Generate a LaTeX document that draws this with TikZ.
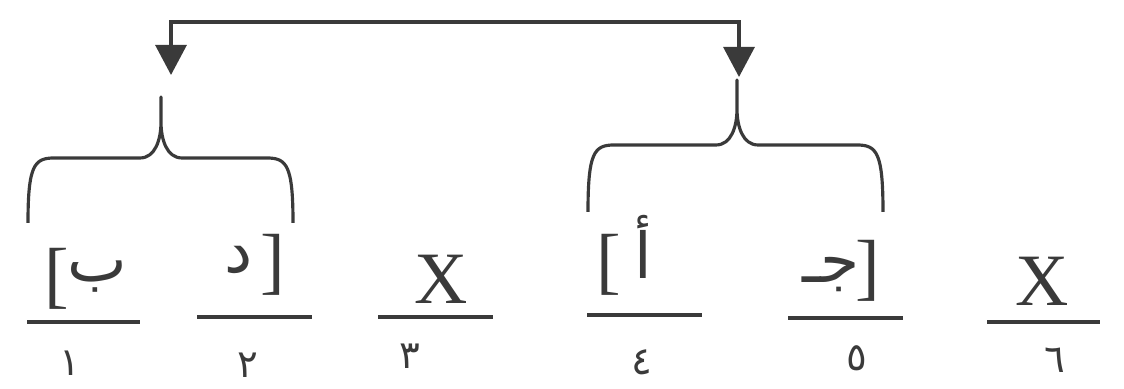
\documentclass[tikz,border=0pt]{standalone}
\usepackage{fontspec}
\setmainfont{Liberation Serif}
\newfontfamily\arabicfont[Script=Arabic]{DejaVu Sans}
\TeXXeTstate=1
\usetikzlibrary{arrows.meta}
\definecolor{ink}{RGB}{58,58,58}
\tikzset{
  rule/.style={ink, line width=0.9pt},
  brace/.style={ink, line width=0.9pt, line join=round},
  letter/.style={ink, inner sep=0pt, font=\fontsize{18}{20}\selectfont\arabicfont},
  bracket/.style={ink, inner sep=0pt, font=\fontsize{21}{23}\selectfont},
  digit/.style={ink, inner sep=0pt, font=\fontsize{11}{13}\selectfont\arabicfont},
}
\begin{document}
\begin{tikzpicture}[x=0.01cm, y=-0.01cm, >={Triangle[length=3mm,width=3.1mm]}]
\useasboundingbox (0,0) rectangle (1124,389);

% slots with their numbers
\foreach \i/\xa/\xb/\ly/\nx/\ny/\d in {1/27/140/322/70/363/١, 2/197/312/317/248/365/٢,
  3/378/493/317/410/356/٣, 4/587/702/315/642/362/٤, 5/788/903/318/857/358/٥,
  6/987/1100/322/1055/360/٦}
{
   \draw[rule] (\xa,\ly)--(\xb,\ly);
   \node[digit] (num\i) at (\nx,\ny) {\d};
}

% what stands on the slots
\node[bracket] (open1) at (57,279) {[};
\node[letter] (ba) at (97,277) {ب};
\node[letter] (dal) at (239,260) {د};
\node[bracket] (close2) at (273,265) {]};
\node[bracket] (x3) at (441,279) {X};
\node[bracket] (open4) at (609,265) {[};
\node[letter] (alif) at (643,247) {أ};
\node[letter] (jim) at (831,275) {\beginR جـ\endR};
\node[bracket] (close5) at (868,271) {]};
\node[bracket] (x6) at (1042,281) {X};

% braces
\foreach \b/\l/\r/\tx/\ty/\hy/\by in {L/28/293/161/97/158/223, R/588/883/737/80/145/212}
{
   \coordinate (tip\b) at (\tx,\ty);
   \draw[brace] (\l,\by) .. controls (\l,\hy+8) and (\l+6,\hy) .. (\l+26,\hy) -- (\tx-21,\hy)
      .. controls (\tx-6,\hy) and (\tx,\hy-18) .. (\tx,\hy-36) -- (tip\b)
      -- (\tx,\hy-36) .. controls (\tx,\hy-18) and (\tx+6,\hy) .. (\tx+21,\hy)
      -- (\r-26,\hy) .. controls (\r-6,\hy) and (\r,\hy+8) .. (\r,\by);
}

% the arrow between the two groups
\coordinate (headL) at (171,75);
\coordinate (headR) at (739,77);
\coordinate (cornerL) at (171,22);
\coordinate (cornerR) at (739,22);
\draw[rule, <->] (headL)--(cornerL)--(cornerR)--(headR);
\end{tikzpicture}
\end{document}
